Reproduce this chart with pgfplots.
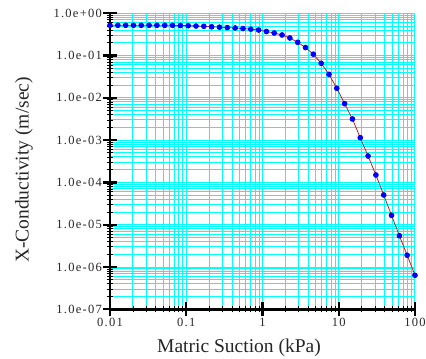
\documentclass[border=0pt]{standalone}
\usepackage{fontspec}
\setmainfont{Liberation Serif}
\newfontfamily\tickfont[LetterSpace=10]{Liberation Serif}
\usepackage{pgfplots}
\usepackage{pgfplotstable}
\pgfplotsset{compat=1.18}
\definecolor{gridcyan}{RGB}{0,255,255}
\definecolor{curvered}{RGB}{170,40,40}
\definecolor{markblue}{RGB}{0,0,255}
\pgfplotstableread{
x y
0.010000 0.520
0.012667 0.520
0.016040 0.520
0.020309 0.520
0.025718 0.520
0.032565 0.520
0.041240 0.520
0.052224 0.520
0.066130 0.519
0.083742 0.514
0.10607 0.509
0.13430 0.501
0.17010 0.493
0.21544 0.480
0.27283 0.469
0.34551 0.459
0.43752 0.449
0.55410 0.437
0.70170 0.421
0.88862 0.403
1.1253 0.371
1.4251 0.342
1.8047 0.307
2.2856 0.261
2.8943 0.206
3.6652 0.155
4.6416 0.108
5.8780 0.0657
7.4438 0.0361
9.4267 0.01686
11.942 0.00729
15.122 0.00317
19.149 0.001144
24.249 0.000422
30.708 0.000150
38.884 5.05e-5
49.239 1.67e-5
62.346 5.50e-6
78.946 1.90e-6
100.00 6.38e-7
}\kdata
\begin{document}
\begin{tikzpicture}
\useasboundingbox (-110pt,-49.7pt) rectangle (316pt,309.3pt);
\begin{axis}[
  at={(0,0)}, anchor=south west,
  scale only axis, width=305pt, height=296pt,
  xmode=log, ymode=log,
  xmin=0.01, xmax=100, ymin=1e-7, ymax=1,
  axis x line*=bottom, axis y line*=left,
  axis line style={-, black, line width=2.4pt},
  grid=none,
  tick align=center,
  major tick length=14pt, minor tick length=6pt,
  major tick style={black, line width=2.2pt},
  minor tick style={black, line width=0.9pt},
  xtick={0.01,0.1,1,10,100},
  xticklabels={0.01,0.1,1,10,100},
  ytick={1e-7,1e-6,1e-5,1e-4,1e-3,1e-2,1e-1,1},
  yticklabels={1.0e-07,1.0e-06,1.0e-05,1.0e-04,1.0e-03,1.0e-02,1.0e-01,1.0e+00},
  tick label style={font=\tickfont\fontsize{12.5}{14}\selectfont, text=black!85},
  yticklabel style={inner sep=1pt},
  xticklabel style={inner sep=1.5pt},
  xlabel={Matric Suction (kPa)},
  ylabel={X-Conductivity (m/sec)},
  label style={font=\fontsize{19.5}{22}\selectfont, text=black!85},
  xlabel style={at={(axis description cs:0.423,-0.1476)}, anchor=base},
  ylabel style={at={(axis description cs:-0.2672,0.4706)}, anchor=base, rotate=0},
  axis on top,
]
\pgfplotsinvokeforeach{0.01,0.02,0.03,0.04,0.05,0.06,0.07,0.08,0.09,0.1,0.2,0.3,0.4,0.5,0.6,0.7,0.8,0.9,1,2,3,4,5,6,7,8,9,10,20,30,40,50,60,70,80,90,100}{
  \draw[gridcyan, line width=1pt] (axis cs:#1,1e-7) -- (axis cs:#1,1);
}
\pgfplotsinvokeforeach{1e-7,2e-7,3e-7,4e-7,5e-7,6e-7,7e-7,8e-7,9e-7,1e-6,2e-6,3e-6,4e-6,5e-6,6e-6,7e-6,8e-6,9e-6,1e-5,2e-5,3e-5,4e-5,5e-5,6e-5,7e-5,8e-5,9e-5,1e-4,2e-4,3e-4,4e-4,5e-4,6e-4,7e-4,8e-4,9e-4,1e-3,2e-3,3e-3,4e-3,5e-3,6e-3,7e-3,8e-3,9e-3,0.01,0.02,0.03,0.04,0.05,0.06,0.07,0.08,0.09,0.1,0.2,0.3,0.4,0.5,0.6,0.7,0.8,0.9,1}{
  \draw[gridcyan, line width=1pt] (axis cs:0.01,#1) -- (axis cs:100,#1);
}
\addplot[curvered, line width=0.8pt, mark=*, mark size=2.4pt,
  mark options={fill=markblue, draw=markblue}] table[x=x, y=y] {\kdata};
\end{axis}
\end{tikzpicture}
\end{document}
